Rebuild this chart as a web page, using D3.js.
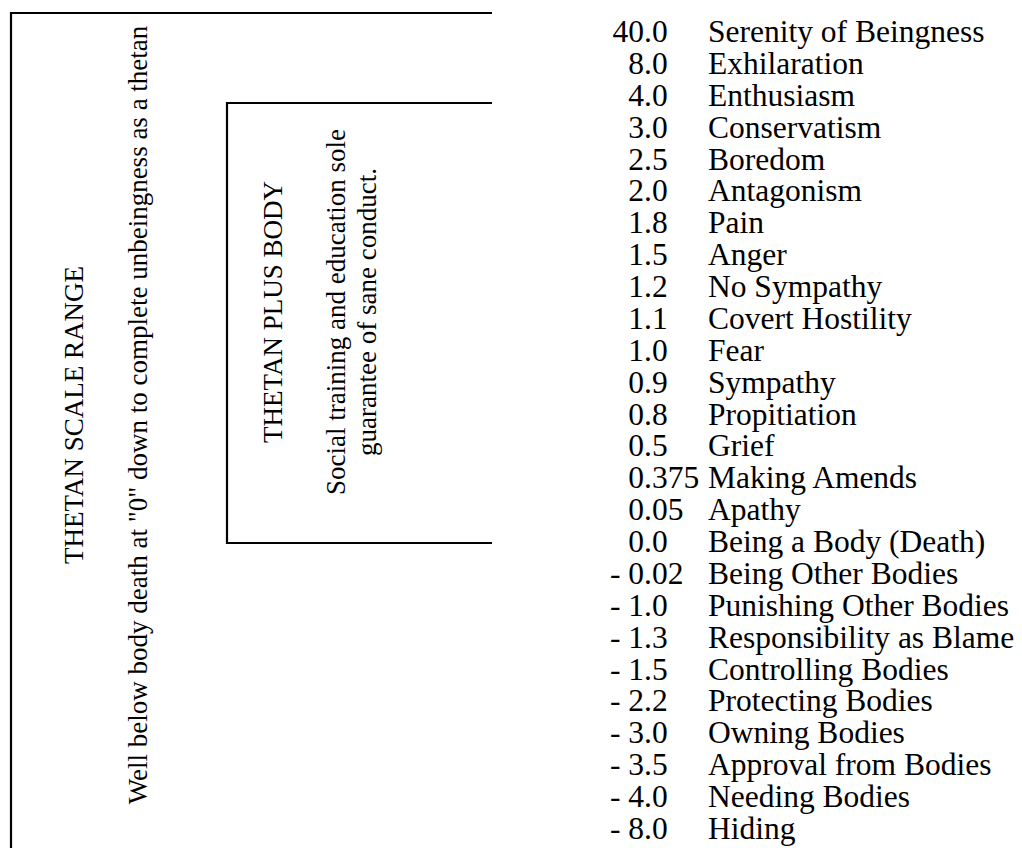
<!DOCTYPE html>
<html>
<head>
<meta charset="utf-8">
<script src="https://cdn.jsdelivr.net/npm/d3@7"></script>
<style>
  html, body { margin: 0; padding: 0; background: #fff; }
  svg { display: block; }
  text { font-family: "Liberation Serif", "Times New Roman", serif; fill: #000; }
</style>
</head>
<body>
<div id="chart"></div>
<script>
// tone levels, top to bottom
var toneLabels = ["40.0", "8.0", "4.0", "3.0", "2.5", "2.0", "1.8", "1.5", "1.2", "1.1",
    "1.0", "0.9", "0.8", "0.5", "0.375", "0.05", "0.0", "- 0.02", "- 1.0", "- 1.3",
    "- 1.5", "- 2.2", "- 3.0", "- 3.5", "- 4.0", "- 8.0"];
var toneNames = ["Serenity of Beingness", "Exhilaration", "Enthusiasm", "Conservatism",
    "Boredom", "Antagonism", "Pain", "Anger", "No Sympathy", "Covert Hostility", "Fear",
    "Sympathy", "Propitiation", "Grief", "Making Amends", "Apathy", "Being a Body (Death)",
    "Being Other Bodies", "Punishing Other Bodies", "Responsibility as Blame",
    "Controlling Bodies", "Protecting Bodies", "Owning Bodies", "Approval from Bodies",
    "Needing Bodies", "Hiding"];

var outerTitle = "THETAN SCALE RANGE";
var outerNote = ["Well below body death at \"0\" down to complete unbeingness as a thetan"];
var innerTitle = "THETAN PLUS BODY";
var innerNote = ["Social training and education sole", "guarantee of sane conduct."];

var width = 1022, height = 848;
var decimalX = 644;
var nameX = 708;

var svg = d3.select("#chart")
    .append("svg")
    .attr("width", width)
    .attr("height", height);

// brackets
var outerBox = {left: 11, top: 13, right: 492};
var innerBox = {left: 227, top: 103, bottom: 543, right: 492};

svg.append("path")
    .attr("d", "M" + outerBox.right + "," + outerBox.top +
        "H" + outerBox.left + "V" + (height + 5))
    .attr("fill", "none")
    .attr("stroke", "#000")
    .attr("stroke-width", 2.2);

svg.append("path")
    .attr("d", "M" + innerBox.right + "," + innerBox.top +
        "H" + innerBox.left + "V" + innerBox.bottom + "H" + innerBox.right)
    .attr("fill", "none")
    .attr("stroke", "#000")
    .attr("stroke-width", 2.2);

// rotated captions
function vText(x, y, str, size) {
    svg.append("text")
        .attr("transform", "translate(" + x + "," + y + ") rotate(-90)")
        .attr("text-anchor", "middle")
        .style("font-size", size + "px")
        .text(str);
}
vText(83, 415, outerTitle, 27);
outerNote.forEach(function(s, i) { vText(147 + i * 31, 415, s, 27); });
vText(282, 312, innerTitle, 27);
innerNote.forEach(function(s, i) { vText(345 + i * 31, 312, s, 27); });

// tone list, numbers aligned on the decimal point
var y = d3.scalePoint()
    .domain(toneNames)
    .range([42, 839]);

var rows = svg.append("g")
    .style("font-size", "31.5px")
    .selectAll("text")
    .data(toneNames)
    .enter().append("text")
    .attr("y", function(d) { return y(d); });

rows.append("tspan")
    .attr("x", decimalX)
    .attr("text-anchor", "end")
    .text(function(d, i) { return toneLabels[i].split(".")[0]; });

rows.append("tspan")
    .attr("x", decimalX)
    .attr("text-anchor", "start")
    .text(function(d, i) { return "." + toneLabels[i].split(".")[1]; });

rows.append("tspan")
    .attr("x", nameX)
    .attr("text-anchor", "start")
    .text(function(d) { return d; });
</script>
</body>
</html>
